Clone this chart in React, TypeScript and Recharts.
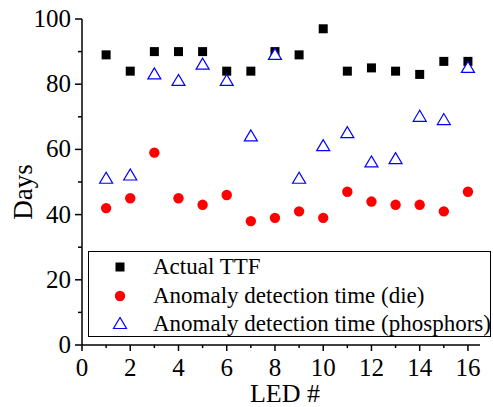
import { Legend, Scatter, ScatterChart, XAxis, YAxis } from "recharts";

const FONT = "'Liberation Serif', 'Times New Roman', serif";

const leds = [1, 2, 3, 4, 5, 6, 7, 8, 9, 10, 11, 12, 13, 14, 15, 16];
const actualTtf = [89, 84, 90, 90, 90, 84, 84, 90, 89, 97, 84, 85, 84, 83, 87, 87];
const dieTime = [42, 45, 59, 45, 43, 46, 38, 39, 41, 39, 47, 44, 43, 43, 41, 47];
const phosphorTime = [51, 52, 83, 81, 86, 81, 64, 89, 51, 61, 65, 56, 57, 70, 69, 85];

const xTicks = [0, 1, 2, 3, 4, 5, 6, 7, 8, 9, 10, 11, 12, 13, 14, 15, 16];
const yTicks = [0, 10, 20, 30, 40, 50, 60, 70, 80, 90, 100];

const toPoints = (vals: number[]) => leds.map((x, i) => ({ x, y: vals[i] }));

const ttfData = toPoints(actualTtf);
const dieData = toPoints(dieTime);
const phosData = toPoints(phosphorTime);

const Square = ({ cx, cy }: any) => <rect x={cx - 4.5} y={cy - 4.5} width={9} height={9} fill="#000" />;
const Dot = ({ cx, cy }: any) => <circle cx={cx} cy={cy} r={5.2} fill="#ff0000" />;
const Tri = ({ cx, cy }: any) => (
  <polygon
    points={`${cx},${cy - 6.5} ${cx - 6.5},${cy + 4.5} ${cx + 6.5},${cy + 4.5}`}
    fill="#fff"
    stroke="#0000ff"
    strokeWidth={1.2}
  />
);

const XTick = ({ x, y, payload }: any) => {
  const major = payload.value % 2 === 0;
  return (
    <g>
      <line x1={x} x2={x} y1={y} y2={y + (major ? 6 : 3)} stroke="#000" strokeWidth={1.5} />
      {major && (
        <text x={x} y={y + 31} textAnchor="middle" fontSize={25} fontFamily={FONT} fill="#000">
          {payload.value}
        </text>
      )}
    </g>
  );
};

const YTick = ({ x, y, payload }: any) => {
  const major = payload.value % 20 === 0;
  return (
    <g>
      <line x1={x} x2={x - (major ? 7 : 4)} y1={y} y2={y} stroke="#000" strokeWidth={1.5} />
      {major && (
        <text x={x - 11} y={y + 8} textAnchor="end" fontSize={25} fontFamily={FONT} fill="#000">
          {payload.value}
        </text>
      )}
    </g>
  );
};

const legendItems = [
  { label: "Actual TTF", Shape: Square },
  { label: "Anomaly detection time (die)", Shape: Dot },
  { label: "Anomaly detection time (phosphors)", Shape: Tri },
];

const LegendBox = () => (
  <div
    style={{
      border: "1.5px solid #000",
      width: 401,
      height: 83,
      boxSizing: "content-box",
      fontFamily: FONT,
      fontSize: 23,
      background: "#fff",
      paddingTop: 1,
      whiteSpace: "nowrap",
      color: "#000",
    }}
  >
    {legendItems.map(({ label, Shape }) => (
      <div key={label} style={{ display: "flex", alignItems: "center", height: 28.5 }}>
        <svg width={64} height={28} style={{ flex: "none" }}>
          <Shape cx={31} cy={14} />
        </svg>
        <span style={{ lineHeight: "28px" }}>{label}</span>
      </div>
    ))}
  </div>
);

export default function App() {
  return (
    <div style={{ padding: 8, width: 485, height: 391, overflow: "visible" }}>
      <style>{"html,body{margin:0;overflow:hidden}"}</style>
      <ScatterChart width={485} height={399} margin={{ top: 11, right: 13, bottom: 32, left: 24 }}>
        <XAxis
          type="number"
          dataKey="x"
          domain={[0, 16.5]}
          ticks={xTicks}
          interval={0}
          height={30}
          tickSize={0}
          tickMargin={0}
          tick={<XTick />}
          axisLine={{ stroke: "#000", strokeWidth: 1.5 }}
          label={{
            content: () => (
              <text x={277} y={394} textAnchor="middle" fontSize={26} fontFamily={FONT} fill="#000">
                LED #
              </text>
            ),
          }}
        />
        <YAxis
          type="number"
          dataKey="y"
          domain={[0, 100]}
          ticks={yTicks}
          interval={0}
          width={50}
          tickSize={0}
          tickMargin={0}
          tick={<YTick />}
          axisLine={{ stroke: "#000", strokeWidth: 1.5 }}
          label={{
            content: () => (
              <text
                x={24}
                y={184}
                transform="rotate(-90 24 184)"
                textAnchor="middle"
                fontSize={27}
                fontFamily={FONT}
                fill="#000"
              >
                Days
              </text>
            ),
          }}
        />
        <Legend
          layout="vertical"
          align="center"
          verticalAlign="middle"
          content={<LegendBox />}
          wrapperStyle={{ left: 80, top: 243, width: 405 }}
        />
        <Scatter data={ttfData} shape={<Square />} isAnimationActive={false} />
        <Scatter data={dieData} shape={<Dot />} isAnimationActive={false} />
        <Scatter data={phosData} shape={<Tri />} isAnimationActive={false} />
      </ScatterChart>
    </div>
  );
}
